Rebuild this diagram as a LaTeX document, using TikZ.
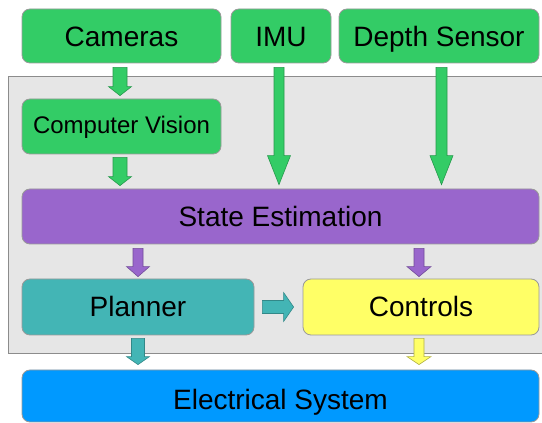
\documentclass[tikz,border=0pt]{standalone}
\usepackage{fontspec}
\setmainfont{Liberation Sans}
\usetikzlibrary{calc}
\definecolor{grn}{HTML}{33CC66}
\definecolor{prp}{HTML}{9966CC}
\definecolor{tel}{HTML}{43B5B5}
\definecolor{ylw}{HTML}{FFFF66}
\definecolor{blu}{HTML}{0099FF}
\definecolor{bgc}{HTML}{E6E6E6}
% vertical block arrow: start, end, half shaft, half head, head length, style
\newcommand\vblock[6]{\path[#6] let \p1=#1, \p2=#2 in
  (\x1-#3,\y1) -- (\x1+#3,\y1) -- (\x1+#3,\y2+#5) -- (\x1+#4,\y2+#5) -- (\x1,\y2)
  -- (\x1-#4,\y2+#5) -- (\x1-#3,\y2+#5) -- cycle;}
% horizontal block arrow
\newcommand\hblock[6]{\path[#6] let \p1=#1, \p2=#2 in
  (\x1,\y1+#3) -- (\x2-#5,\y1+#3) -- (\x2-#5,\y1+#4) -- (\x2,\y1) -- (\x2-#5,\y1-#4)
  -- (\x2-#5,\y1-#3) -- (\x1,\y1-#3) -- cycle;}
\begin{document}
\begin{tikzpicture}[x=1pt,y=1pt,
  box/.style={draw=black!40, line width=0.8pt, rounded corners=8pt, inner sep=0pt,
    font=\fontsize{28}{33}\selectfont, text height=21pt, text depth=0pt},
  sbox/.style={box, font=\fontsize{24}{28}\selectfont, text height=15pt},
  garrow/.style={fill=grn, draw=grn!75!black, line width=0.6pt},
  parrow/.style={fill=prp, draw=prp!75!black, line width=0.6pt},
  tarrow/.style={fill=tel, draw=tel!75!black, line width=0.6pt},
  yarrow/.style={fill=ylw, draw=ylw!70!black, line width=0.6pt}]
\useasboundingbox (0,0) rectangle (542,423);
\fill[white] (0,0) rectangle (542,423);
\path[fill=bgc, draw=black!45, line width=0.8pt] (8,70) rectangle (548,347);

\node[box, fill=grn, minimum width=199pt, minimum height=54pt] (cam) at (121.5,387) {Cameras};
\node[box, fill=grn, minimum width=100pt, minimum height=54pt] (imu) at (281,387) {IMU};
\node[box, fill=grn, minimum width=200pt, minimum height=54pt] (dep) at (439,387) {Depth Sensor};
\node[sbox, fill=grn, minimum width=199pt, minimum height=55pt] (cv) at (121.5,296.5) {Computer Vision};
\node[box, fill=prp, minimum width=517pt, minimum height=55pt, text height=20pt] (se) at (280.5,206.5) {State Estimation};
\node[box, fill=tel, minimum width=232pt, minimum height=56pt, text height=20pt] (pl) at (138,116) {Planner};
\node[box, fill=ylw, minimum width=236pt, minimum height=56pt, text height=20pt] (ct) at (421,116) {Controls};
\node[box, fill=blu, minimum width=517pt, minimum height=52pt, text height=27pt] (el) at (280.5,27) {Electrical System};

\vblock{($(cam.south)+(-1.5,-4)$)}{($(cv.north)+(-1.5,3)$)}{7pt}{11.5pt}{9pt}{garrow}
\vblock{($(cv.south)+(-1.5,-3)$)}{($(se.north)+(0,3)$)}{7pt}{11.5pt}{9pt}{garrow}
\vblock{($(imu.south)+(-2,-4)$)}{($(se.north)+(0,4)$)}{5pt}{11.5pt}{29pt}{garrow}
\vblock{($(dep.south)+(2.5,-4)$)}{($(se.north)+(0,4)$)}{5.5pt}{11.5pt}{29pt}{garrow}
\vblock{($(se.south)+(-142.5,-4)$)}{($(pl.north)+(0,2)$)}{5pt}{11.5pt}{10pt}{parrow}
\vblock{($(se.south)+(138.5,-4)$)}{($(ct.north)+(0,2)$)}{5pt}{12pt}{10pt}{parrow}
\hblock{($(pl.east)+(8,0)$)}{($(ct.west)+(-9,0)$)}{6.5pt}{14.5pt}{10pt}{tarrow}
\vblock{($(pl.south)+(0,-3)$)}{($(el.north)+(0,5)$)}{6.5pt}{11.5pt}{8pt}{tarrow}
\vblock{($(ct.south)+(-2,-3)$)}{($(el.north)+(0,5)$)}{5pt}{12pt}{8pt}{yarrow}
\end{tikzpicture}
\end{document}
